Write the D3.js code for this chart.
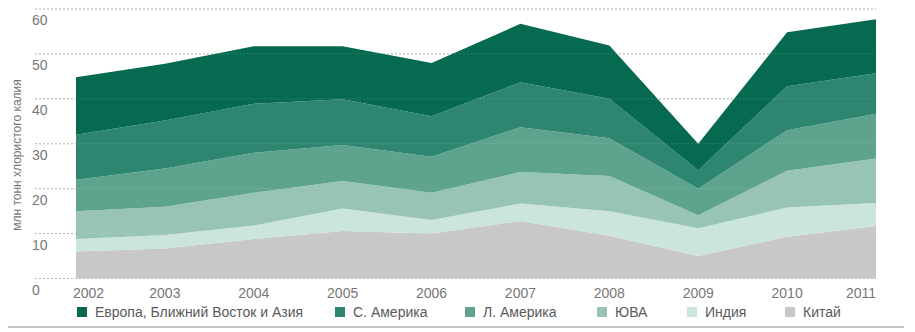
<!DOCTYPE html>
<html lang="ru">
  <head>
    <meta charset="UTF-8" />
    <title>Потребление хлористого калия</title>
    <script src="https://d3js.org/d3.v7.min.js"></script>
    <style>
      body {
        margin: 0;
        background: #fff;
        font-family: "Liberation Sans", Arial, sans-serif;
      }
    </style>
  </head>
  <body>
    <svg id="chart" width="915" height="332"></svg>

    <script>
      // years and series (mln t KCl)
      const years = [2002, 2003, 2004, 2005, 2006, 2007, 2008, 2009, 2010, 2011];
      const china = [6.0, 6.7, 8.8, 10.6, 10.0, 12.8, 9.5, 5.0, 9.3, 11.7];
      const india = [2.8, 3.0, 3.0, 5.0, 3.0, 3.9, 5.5, 6.2, 6.5, 5.1];
      const sea = [6.2, 6.3, 7.3, 6.1, 6.1, 7.0, 7.8, 2.9, 8.2, 9.9];
      const latAm = [7.0, 8.5, 8.9, 8.0, 8.0, 10.0, 8.4, 5.9, 9.0, 10.0];
      const northAm = [10.0, 10.7, 10.9, 10.2, 9.0, 10.0, 8.8, 4.1, 9.8, 9.0];
      const europe = [12.8, 12.6, 12.8, 11.8, 11.9, 13.0, 11.9, 5.9, 12.0, 12.0];

      const yTicks = [0, 10, 20, 30, 40, 50, 60];

      // bottom-up stacking order
      const series = [
        { key: "china", name: "Китай", values: china, color: "#c8c8c8" },
        { key: "india", name: "Индия", values: india, color: "#cbe4de" },
        { key: "sea", name: "ЮВА", values: sea, color: "#97c4b6" },
        { key: "latAm", name: "Л. Америка", values: latAm, color: "#5da38e" },
        { key: "northAm", name: "С. Америка", values: northAm, color: "#2e8570" },
        { key: "europe", name: "Европа, Ближний Восток и Азия", values: europe, color: "#066a50" },
      ];

      const svg = d3.select("#chart");
      const margin = { left: 76, right: 40, top: 9, bottom: 53 };
      const width = +svg.attr("width"), height = +svg.attr("height");

      const x = d3
        .scaleLinear()
        .domain(d3.extent(years))
        .range([margin.left, width - margin.right + 1]);
      const y = d3
        .scaleLinear()
        .domain([0, 60])
        .range([278.5, margin.top]);

      const table = years.map((yr, i) => {
        const row = { year: yr };
        series.forEach((s) => (row[s.key] = s.values[i]));
        return row;
      });
      const stacked = d3.stack().keys(series.map((s) => s.key))(table);

      // grid under the areas
      const grid = (g, color, opacity) =>
        g
          .selectAll("line")
          .data(yTicks)
          .join("line")
          .attr("x1", 35)
          .attr("x2", x(2011))
          .attr("y1", (d) => y(d))
          .attr("y2", (d) => y(d))
          .attr("stroke", color)
          .attr("stroke-opacity", opacity)
          .attr("stroke-width", 1)
          .attr("stroke-dasharray", "2,2");

      svg.append("g").call(grid, "#a8a8a8", 1);

      const area = d3
        .area()
        .x((d) => x(d.data.year))
        .y0((d) => y(d[0]))
        .y1((d) => y(d[1]));

      svg
        .append("g")
        .selectAll("path")
        .data(stacked)
        .join("path")
        .attr("d", area)
        .attr("fill", (d, i) => series[i].color);

      // faint grid showing through
      svg.append("g").call(grid, "#ffffff", 0.15);

      // y labels sit just below their grid line
      svg
        .append("g")
        .selectAll("text")
        .data(yTicks)
        .join("text")
        .attr("x", 32)
        .attr("y", (d) => y(d) + 16)
        .attr("font-size", 14)
        .attr("fill", "#777")
        .text((d) => d);

      svg
        .append("text")
        .attr("transform", "translate(21,155) rotate(-90)")
        .attr("text-anchor", "middle")
        .attr("font-size", 12)
        .attr("fill", "#777")
        .text("млн тонн хлористого калия");

      // x labels
      svg
        .append("g")
        .selectAll("text")
        .data(years)
        .join("text")
        .attr("x", (d, i) => (i === 0 ? x(d) - 3 : x(d)))
        .attr("y", 298)
        .attr("text-anchor", (d, i) =>
          i === 0 ? "start" : i === years.length - 1 ? "end" : "middle"
        )
        .attr("font-size", 14)
        .attr("fill", "#777")
        .text((d) => d);

      // legend, top layer first
      const legendX = [77, 335, 465, 597, 687, 785];
      const legend = svg
        .append("g")
        .selectAll("g")
        .data(series.slice().reverse())
        .join("g")
        .attr("transform", (d, i) => `translate(${legendX[i]},307)`);
      legend
        .append("rect")
        .attr("width", 10)
        .attr("height", 10)
        .attr("fill", (d) => d.color);
      legend
        .append("text")
        .attr("x", 18)
        .attr("y", 10)
        .attr("font-size", 14)
        .attr("fill", "#5a5a5a")
        .text((d) => d.name);

      // bottom rule
      svg
        .append("line")
        .attr("x1", 8)
        .attr("x2", 904)
        .attr("y1", 327)
        .attr("y2", 327)
        .attr("stroke", "#c4c4c4")
        .attr("stroke-width", 2);
    </script>
  </body>
</html>
